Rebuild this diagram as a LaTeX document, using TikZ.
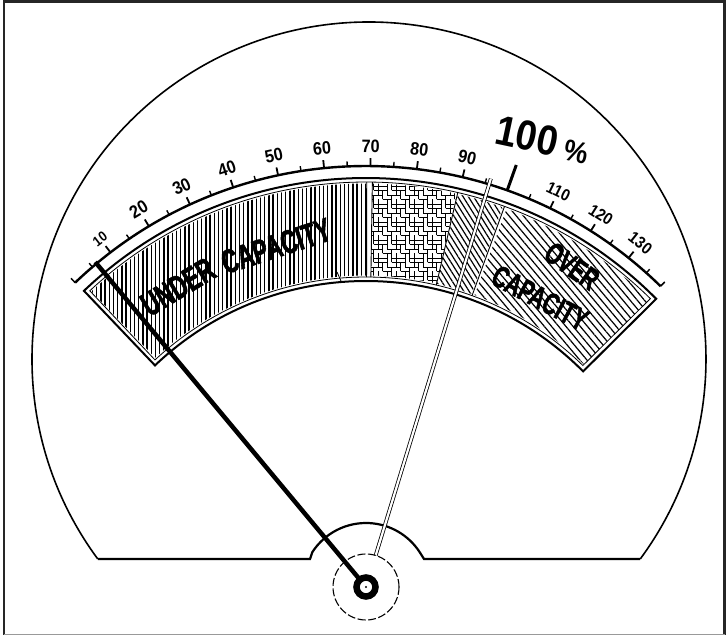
\documentclass[tikz,border=0pt]{standalone}
\usepackage{fontspec}
\newfontfamily\dialfont[FakeStretch=0.67, FakeBold=1.6]{Liberation Sans}
\newfontfamily\numfont[FakeStretch=0.9]{Liberation Sans}
\usetikzlibrary{calc, patterns.meta}

% maze-like fill for the 70--90 zone
\tikzdeclarepattern{
  name=maze,
  type=uncolored,
  bottom left={(-.5pt,-.5pt)},
  top right={(18.5pt,18.5pt)},
  tile size={(18pt,18pt)},
  code={
    \tikzset{x=1pt,y=1pt}
    \draw[line width=0.9pt]
      (0,0) -- (9,0) (13.5,0) -- (18,0)
      (4.5,4.5) -- (13.5,4.5)
      (0,9) -- (4.5,9) (9,9) -- (18,9)
      (0,13.5) -- (9,13.5) (13.5,13.5) -- (18,13.5)
      (0,0) -- (0,4.5) (0,9) -- (0,18)
      (4.5,4.5) -- (4.5,13.5)
      (9,0) -- (9,4.5) (9,9) -- (9,18)
      (13.5,0) -- (13.5,9) (13.5,13.5) -- (13.5,18);
  }
}

\tikzset{
  numlbl/.style={font=\numfont\bfseries\fontsize{18}{20}\selectfont, inner sep=0pt},
  bandword/.style={font=\dialfont\bfseries\fontsize{#1}{#1}\selectfont, inner sep=0pt},
}

\begin{document}
\begin{tikzpicture}[x=1pt, y=1pt]

  \def\Rs{421}     % scale line radius
  \def\Ro{409}     % band, outer edge
  \def\Ri{306}     % band, inner edge

  \useasboundingbox (0,0) rectangle (727,636);

  % Key points
  \coordinate (P) at (366,49);   % pivot, centre of scale and band
  \coordinate (D) at (369,277);  % centre of the dial outline

  % Frame
  \draw[line width=2.5pt, black!85] (4,1) -- (4,634.3) -- (724.5,634.3) -- (724.5,1);
  \draw[line width=1.5pt, black!40] (4,1.3) -- (724.5,1.3);

  % Dial outline (big arc, base line, bump round the pivot)
  \draw[line width=1.6pt] ($(D)+(216.4:337)$) arc[start angle=216.4, end angle=-36.4, radius=337];
  \draw[line width=2.2pt] ($(D)+(216.4:337)$) -- (310,77) -- ($(P)+(147:64)$)
    arc[start angle=147, end angle=33, radius=64] -- (424,77) -- ($(D)+(-36.4:337)$);

  % Band segments (hatched)
  \fill[pattern={Lines[angle=90, distance=4.2pt, line width=1.4pt]}]
    ($(P)+(132.9:403.5)$) arc[start angle=132.9, end angle=89.9, radius=403.5]
    -- ($(P)+(89.9:311.5)$) arc[start angle=89.9, end angle=132.6, radius=311.5] -- cycle;
  \fill[pattern=maze]
    ($(P)+(89.1:403.5)$) arc[start angle=89.1, end angle=77.0, radius=403.5]
    -- ($(P)+(77.0:311.5)$) arc[start angle=77.0, end angle=89.1, radius=311.5] -- cycle;
  \fill[pattern={Lines[angle=-58, distance=4.5pt, line width=1.2pt]}]
    ($(P)+(76.8:403.5)$) arc[start angle=76.8, end angle=70.2, radius=403.5]
    -- ($(P)+(70.2:311.5)$) arc[start angle=70.2, end angle=76.8, radius=311.5] -- cycle;
  \fill[pattern={Lines[angle=-50, distance=5.5pt, line width=1.2pt]}]
    ($(P)+(69.6:403.5)$) arc[start angle=69.6, end angle=45.4, radius=403.5]
    -- ($(P)+(45.6:311.5)$) arc[start angle=45.6, end angle=69.6, radius=311.5] -- cycle;

  % segment borders
  \foreach \a in {89.9,89.1,76.9,70.0}
    \draw[line width=0.9pt] ($(P)+(\a:310)$) -- ($(P)+(\a:405)$);
  \draw[line width=0.8pt] (337,364) -- (341,355);

  % Band frame, outer and inner
  \draw[line width=2pt, line join=miter]
    ($(P)+(133.6:\Ro)$) arc[start angle=133.6, end angle=44.8, radius=\Ro]
    -- ($(P)+(44.8:\Ri)$) arc[start angle=44.8, end angle=133.6, radius=\Ri] -- cycle;
  \draw[line width=0.8pt, line join=miter]
    ($(P)+(133.0:405)$) arc[start angle=133.0, end angle=45.4, radius=405]
    -- ($(P)+(45.6:310)$) arc[start angle=45.6, end angle=132.9, radius=310] -- cycle;

  % Band lettering
  \node[bandword=33.5, rotate=31] (under) at (178,349) {UNDER};
  \node[bandword=33.5, rotate=18] (undercap) at (276,390) {CAPACITY};
  \node[bandword=30.7, rotate=-35] (over) at (572,370) {OVER};
  \node[bandword=30.7, rotate=-28] (overcap) at (540,338) {CAPACITY};

  % Scale line and ticks
  \draw[line width=2.4pt] ($(P)+(133.7:\Rs)$) arc[start angle=133.7, end angle=45.6, radius=\Rs];
  \foreach \a in {133.7,45.6}
    \draw[line width=1.5pt] ($(P)+(\a:\Rs)$) -- ($(P)+(\a:\Rs+6)$);
  \foreach \v in {5,15,...,135}
    \draw[line width=1.4pt] ($(P)+({133.7-0.633*\v}:\Rs)$) -- ($(P)+({133.7-0.633*\v}:\Rs+5)$);
  \foreach \v in {10,20,...,90,110,120,130}
    \draw[line width=1.8pt] ($(P)+({133.7-0.633*\v}:\Rs)$) -- ($(P)+({133.7-0.633*\v}:\Rs+8)$);
  \draw[line width=3pt] ($(P)+(70.4:\Rs)$) -- ($(P)+(70.4:\Rs+27)$);

  % Scale numbers
  \node[numlbl, font=\numfont\bfseries\fontsize{14}{16}\selectfont, rotate=37.4]
    (n10) at ($(P)+(127.4:438)$) {10};
  \foreach \v in {20,30,...,90}
    \node[numlbl, rotate={43.7-0.633*\v}] (n\v) at ($(P)+({133.7-0.633*\v}:441)$) {\v};
  \foreach \v in {110,120,130}
    \node[numlbl, font=\numfont\bfseries\fontsize{16.5}{18}\selectfont, rotate={43.7-0.633*\v}]
      (n\v) at ($(P)+({133.7-0.633*\v}:440)$) {\v};
  \node[font=\numfont\bfseries\fontsize{42}{42}\selectfont, inner sep=0pt, rotate=-12]
    (full) at (527,500) {100};
  \node[font=\numfont\bfseries\fontsize{30}{30}\selectfont, inner sep=0pt, rotate=-12]
    (pct) at (576,484) {\%};

  % Pointers
  \draw[line width=4.5pt] ($(P)+(129.8:9)$) -- ($(P)+(129.8:423)$);
  \draw[double, double distance=2.2pt, line width=0.8pt] ($(P)+(73:33)$) -- ($(P)+(73:427)$);

  % Pivot
  \draw[line width=1.1pt, dash pattern=on 8pt off 2.5pt] (P) circle[radius=33];
  \draw[line width=6.5pt] (P) circle[radius=9.5];
  \fill (P) circle[radius=1.2];

\end{tikzpicture}
\end{document}
